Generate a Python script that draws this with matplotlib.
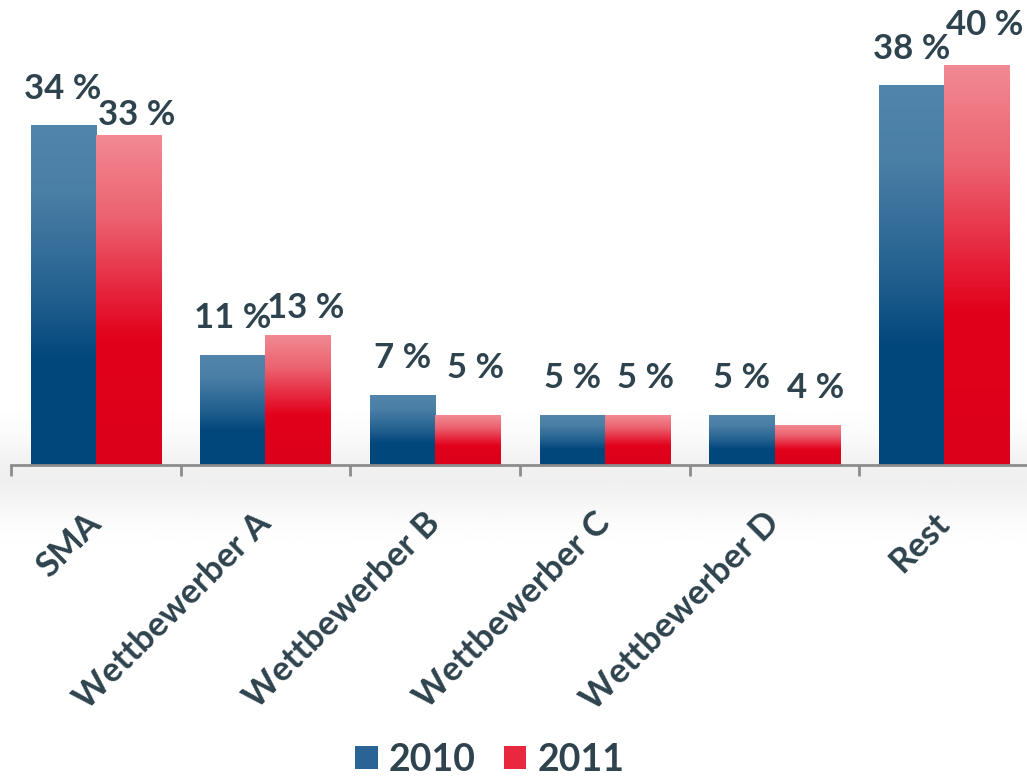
import numpy as np
import matplotlib.pyplot as plt
from matplotlib.colors import LinearSegmentedColormap
from matplotlib.patches import Patch

categories = ["SMA", "Wettbewerber A", "Wettbewerber B", "Wettbewerber C", "Wettbewerber D", "Rest"]
share_2010 = [34, 11, 7, 5, 5, 38]
share_2011 = [33, 13, 5, 5, 4, 40]
years = ["2010", "2011"]

text_col = "#2e434d"
plt.rcParams['font.family'] = ['Lato', 'DejaVu Sans']
plt.rcParams['font.weight'] = 'bold'

blue_cmap = LinearSegmentedColormap.from_list(
    "blue", [(0, "#5185ab"), (0.2, "#4a7fa6"), (0.5, "#23608f"), (0.68, "#03487d"), (1, "#02477c")])
red_cmap = LinearSegmentedColormap.from_list(
    "red", [(0, "#f18a93"), (0.25, "#ec6270"), (0.5, "#e51e36"), (0.62, "#e2001a"), (1, "#dc001c")])

fig = plt.figure(figsize=(10.27, 7.76), dpi=100)

# soft grey band behind the baseline
bg = fig.add_axes([0, 0, 1, 1], zorder=-5)
yy = np.linspace(0, 1, 400)
band = np.exp(-((yy - 0.385) / 0.05) ** 2) * 0.06
bg.imshow(1 - band[:, None] * np.ones((1, 10)), cmap="gray", vmin=0, vmax=1,
          extent=[0, 1, 0, 1], aspect="auto", origin="lower")
bg.set_axis_off()

ax = fig.add_axes([11 / 1027, 311 / 776, 1018 / 1027, 465 / 776])
ax.patch.set_alpha(0)
x = np.arange(len(categories))
w = 0.385
bars1 = ax.bar(x - w / 2, share_2010, w, color="none")
bars2 = ax.bar(x + w / 2, share_2011, w, color="none")

grad = np.linspace(0, 1, 256)[:, None]
for bars, cmap in ((bars1, blue_cmap), (bars2, red_cmap)):
    for b in bars:
        x0, y0 = b.get_x(), b.get_y()
        ax.imshow(grad, cmap=cmap, extent=[x0, x0 + b.get_width(), y0, y0 + b.get_height()],
                  aspect="auto", origin="upper", zorder=2)

# value labels
red_lift = [11, 17, 37, 27, 27, 31]
for b, v in zip(bars1, share_2010):
    ax.annotate(f"{v} %", (b.get_x() + b.get_width() / 2, b.get_height()),
                xytext=(0, 27 * 0.72), textcoords="offset points", ha="center", va="baseline",
                fontsize=25, color=text_col, fontweight="bold", zorder=5)
for b, v, lift in zip(bars2, share_2011, red_lift):
    ax.annotate(f"{v} %", (b.get_x() + b.get_width() / 2, b.get_height()),
                xytext=(8 * 0.72, lift * 0.72), textcoords="offset points", ha="center", va="baseline",
                fontsize=25, color=text_col, fontweight="bold", zorder=5)

ax.set_xlim(-0.5, len(categories) - 0.5)
ax.set_ylim(0, 46.6)
for s in ["top", "right", "left"]:
    ax.spines[s].set_visible(False)
ax.spines["bottom"].set_color("#8c8c8c")
ax.spines["bottom"].set_linewidth(2)
ax.set_yticks([])
ax.set_xticks(x)
ax.set_xticklabels(categories, rotation=45, ha="right", va="center", rotation_mode="anchor",
                   fontsize=25, color=text_col, fontweight="bold")
ax.tick_params(axis="x", which="major", length=0, pad=38)
ax.set_xticks(np.arange(-0.5, len(categories)), minor=True)
ax.tick_params(axis="x", which="minor", length=8, width=2, color="#8c8c8c")

handles = [Patch(facecolor="#2a6495", edgecolor="none"), Patch(facecolor="#e8283e", edgecolor="none")]
leg = fig.legend(handles, years, loc="center", bbox_to_anchor=(0.477, 0.021), ncol=2, frameon=False,
                 handlelength=0.6, handleheight=0.6, handletextpad=0.3,
                 columnspacing=0.75, prop={"weight": "bold", "size": 27})
for t in leg.get_texts():
    t.set_color(text_col)

fig.savefig("out.png", dpi=100)
